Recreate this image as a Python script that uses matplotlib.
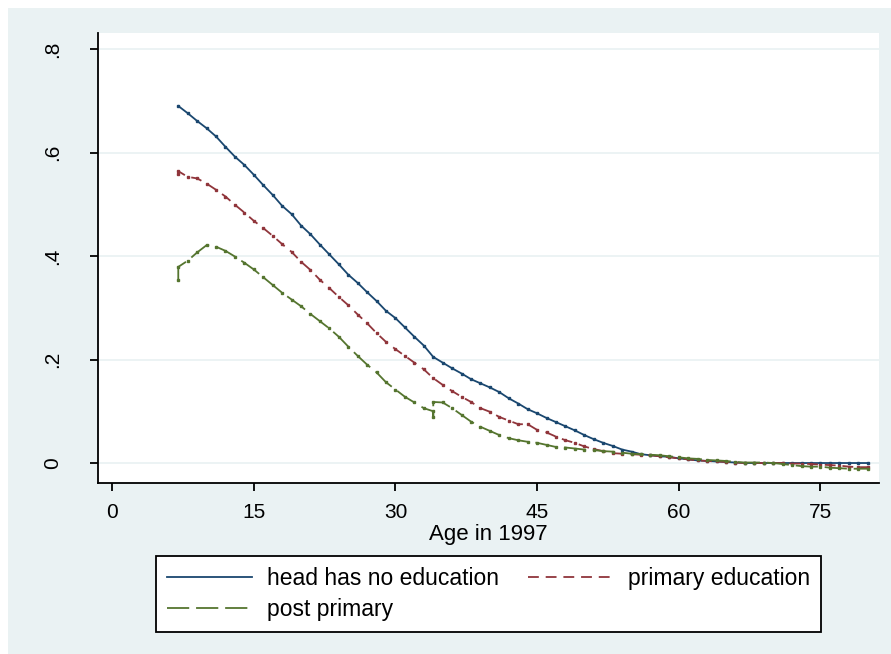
import matplotlib
matplotlib.use("Agg")
import matplotlib.pyplot as plt
from matplotlib.patches import Rectangle

# ---- data ----
ages_none = list(range(7, 81))
no_educ = [0.690, 0.676, 0.661, 0.647, 0.631, 0.611, 0.592, 0.576, 0.557, 0.537,
           0.518, 0.497, 0.481, 0.459, 0.442, 0.422, 0.403, 0.384, 0.364, 0.348,
           0.330, 0.313, 0.294, 0.280, 0.262, 0.244, 0.227, 0.205, 0.194, 0.183,
           0.173, 0.162, 0.154, 0.146, 0.137, 0.125, 0.115, 0.104, 0.096, 0.087,
           0.079, 0.071, 0.063, 0.054, 0.046, 0.039, 0.033, 0.026, 0.022, 0.017,
           0.015, 0.013, 0.012, 0.009, 0.007, 0.005, 0.004, 0.003, 0.002, 0.001,
           0.000, 0.000, 0.000, 0.000, 0.000, 0.000, 0.000, 0.000, 0.000, 0.000,
           0.000, 0.000, 0.000, 0.000]

ages_prim = [7] + list(range(7, 81))
primary = [0.558, 0.564, 0.553, 0.550, 0.540, 0.528, 0.515, 0.499, 0.484, 0.468,
           0.454, 0.439, 0.423, 0.408, 0.389, 0.373, 0.354, 0.338, 0.321, 0.305,
           0.287, 0.270, 0.251, 0.234, 0.220, 0.207, 0.194, 0.181, 0.164, 0.151,
           0.139, 0.128, 0.118, 0.106, 0.099, 0.089, 0.082, 0.075, 0.075, 0.064,
           0.059, 0.051, 0.044, 0.039, 0.032, 0.027, 0.023, 0.019, 0.018, 0.017,
           0.016, 0.015, 0.013, 0.011, 0.009, 0.007, 0.005, 0.004, 0.003, 0.002,
           0.001, 0.000, 0.000, 0.000, 0.000, 0.000, -0.001, -0.001, -0.002, -0.003,
           -0.004, -0.005, -0.007, -0.008, -0.008]

ages_post = [7, 7] + list(range(8, 34)) + [34, 34, 34] + list(range(35, 81))
post_primary = [0.354, 0.379, 0.391, 0.407, 0.421, 0.418, 0.410, 0.399, 0.387, 0.374,
                0.359, 0.344, 0.329, 0.316, 0.303, 0.288, 0.274, 0.260, 0.244, 0.225,
                0.207, 0.190, 0.175, 0.156, 0.142, 0.128, 0.117, 0.106,
                0.100, 0.089, 0.118,
                0.117, 0.106, 0.093, 0.080, 0.070, 0.062, 0.054, 0.048, 0.044, 0.041,
                0.039, 0.035, 0.031, 0.030, 0.028, 0.026, 0.025, 0.023, 0.022, 0.020,
                0.018, 0.017, 0.016, 0.015, 0.013, 0.011, 0.009, 0.008, 0.006, 0.005,
                0.004, 0.002, 0.001, 0.001, 0.001, 0.000, -0.002, -0.004, -0.006, -0.007,
                -0.007, -0.009, -0.010, -0.011, -0.011, -0.011]

x_ticks = [0, 15, 30, 45, 60, 75]
y_ticks = [0, 0.2, 0.4, 0.6, 0.8]
y_tick_labels = ["0", ".2", ".4", ".6", ".8"]
labels = ["head has no education", "primary education", "post primary"]
x_title = "Age in 1997"

# ---- style ----
BG = "#EAF2F3"
C_BLUE = "#1A476F"
C_RED = "#90353B"
C_GREEN = "#55752F"
FONT = ["Liberation Sans", "DejaVu Sans"]
plt.rcParams["font.family"] = FONT

W, H = 891, 654
fig = plt.figure(figsize=(W / 100, H / 100), dpi=100)
fig.patch.set_facecolor("white")
fig.add_artist(Rectangle((8 / W, 0), 1 - 8 / W, 1 - 8 / H, transform=fig.transFigure,
                         facecolor=BG, edgecolor="none", zorder=-10))

ax_l, ax_r, ax_t, ax_b = 98, 879, 33, 483
ax = fig.add_axes([ax_l / W, 1 - ax_b / H, (ax_r - ax_l) / W, (ax_b - ax_t) / H])
ax.set_facecolor("white")

lw = 1.3
l1, = ax.plot(ages_none, no_educ, color=C_BLUE, lw=lw, marker="s", ms=2.1,
              label=labels[0], zorder=3)
l2, = ax.plot(ages_prim, primary, color=C_RED, lw=lw, marker="s", ms=2.1,
              linestyle=(0, (6, 3.8)), label=labels[1], zorder=3)
l3, = ax.plot(ages_post, post_primary, color=C_GREEN, lw=lw, marker="s", ms=2.1,
              linestyle=(0, (12.3, 3.8)), label=labels[2], zorder=3)

ax.set_xlim(-1.5, 81.2)
ax.set_ylim(-0.0386, 0.831)
ax.set_xticks(x_ticks)
ax.set_xticklabels([str(v) for v in x_ticks])
ax.set_yticks(y_ticks)
ax.set_yticklabels(y_tick_labels, rotation=90, va="center")
for v in y_ticks:
    ax.axhline(v, color=BG, lw=1.3, zorder=1)

for s in ["top", "right"]:
    ax.spines[s].set_visible(False)
for s in ["left", "bottom"]:
    ax.spines[s].set_linewidth(1.3)
    ax.spines[s].set_color("black")
ax.tick_params(axis="both", direction="out", length=5.5, width=1.3, labelsize=15,
               color="black")
ax.tick_params(axis="y", pad=20)
ax.tick_params(axis="x", pad=9)
ax.set_xlabel(x_title, fontsize=16, labelpad=1.5)

# legend: row-wise order like Stata (head | primary / post)
leg_l, leg_r, leg_t, leg_b = 156, 821, 556, 630
leg = fig.legend([l1, l3, l2], [labels[0], labels[2], labels[1]], ncol=2,
                 loc="upper left",
                 bbox_to_anchor=(leg_l / W, 1 - leg_b / H, (leg_r - leg_l) / W, (leg_b - leg_t) / H),
                 mode="expand", fontsize=16.5, frameon=True, fancybox=False,
                 edgecolor="black", facecolor="white", framealpha=1,
                 handlelength=3.7, handletextpad=0.65, columnspacing=1.5,
                 borderpad=0.48, labelspacing=0.36, borderaxespad=0)
leg.get_frame().set_linewidth(1.3)
for h in leg.legend_handles:
    h.set_marker("")

fig.savefig("out.png", dpi=100, facecolor=fig.get_facecolor())
